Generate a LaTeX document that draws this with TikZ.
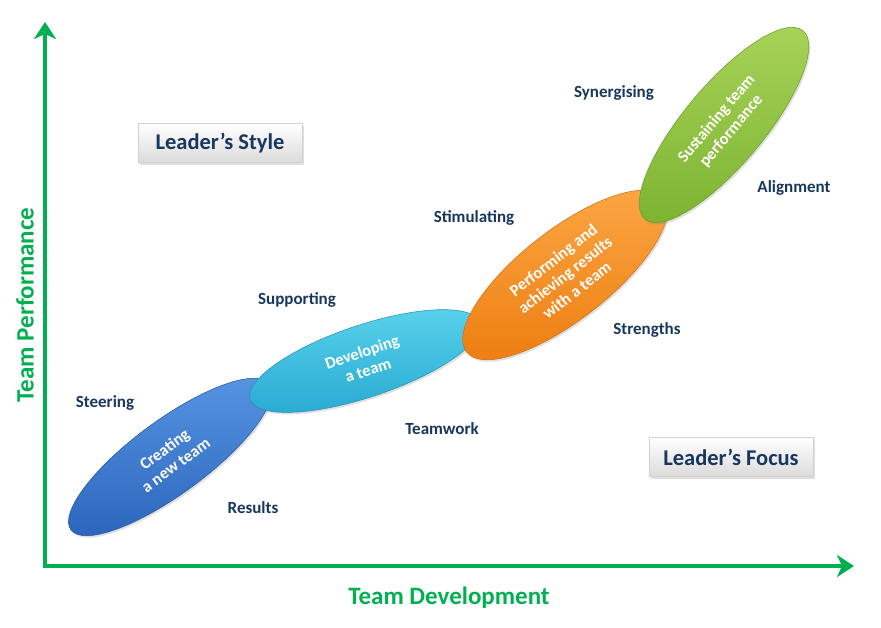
\documentclass[tikz,border=0pt]{standalone}
\usepackage{fontspec}
\setmainfont{Carlito}
\usetikzlibrary{shapes.geometric,arrows.meta,shadows}
\definecolor{axisgreen}{RGB}{0,176,80}
\definecolor{navy}{RGB}{23,55,94}
\definecolor{blueA}{RGB}{88,150,228}
\definecolor{blueB}{RGB}{46,104,190}
\definecolor{cyanA}{RGB}{90,210,236}
\definecolor{cyanB}{RGB}{40,170,210}
\definecolor{orangeA}{RGB}{252,168,70}
\definecolor{orangeB}{RGB}{238,128,20}
\definecolor{greenA}{RGB}{168,212,90}
\definecolor{greenB}{RGB}{126,180,50}
\tikzset{
  phase/.style={ellipse, inner sep=0pt, align=center, text=white,
    font=\bfseries\fontsize{16.5}{19}\selectfont,
    drop shadow={shadow xshift=1.5pt, shadow yshift=-2pt, opacity=0.25}},
  lbl/.style={text=navy, font=\bfseries\fontsize{17}{19}\selectfont},
  boxlbl/.style={draw=gray!35, line width=0.4pt, top color=white, bottom color=gray!28,
    text=navy, font=\bfseries\fontsize{22.5}{25}\selectfont,
    minimum width=164pt, minimum height=39pt, inner sep=0pt,
    drop shadow={shadow xshift=1.5pt, shadow yshift=-2pt, opacity=0.25}},
  axislbl/.style={text=axisgreen, font=\bfseries\fontsize{25}{27}\selectfont},
  axisline/.style={draw=axisgreen, line width=4pt,
    -{Stealth[length=17pt, width=22pt, inset=5pt]}}
}
\begin{document}
\begin{tikzpicture}[x=1pt,y=-1pt]
\useasboundingbox (0,0) rectangle (881,627);
% axes
\coordinate (O) at (45,566);
\coordinate (Ytip) at (45,22);
\coordinate (Xtip) at (854,566);
\draw[axisline] ([yshift=-2pt]O) -- (Ytip);
\draw[axisline] ([xshift=-2pt]O) -- (Xtip);
\node[axislbl, rotate=90] (ylab) at (25,305) {Team Performance};
\node[axislbl] (xlab) at (449,598) {Team Development};
% phases
\node[phase, minimum width=246pt, minimum height=74pt, rotate=36.3,
  top color=blueA, bottom color=blueB, draw=blueB!80!black, line width=0.5pt]
  (p1) at (170,457) {Creating\\a new team};
\node[phase, minimum width=242pt, minimum height=72pt, rotate=18.5,
  top color=cyanA, bottom color=cyanB, draw=cyanB!85!black, line width=0.5pt]
  (p2) at (365,361) {Developing\\a team};
\node[phase, minimum width=250pt, minimum height=90pt, rotate=38,
  top color=orangeA, bottom color=orangeB, draw=orangeB!85!black, line width=0.5pt]
  (p3) at (565,275) {Performing and\\achieving results\\with a team};
\node[phase, minimum width=246pt, minimum height=80pt, rotate=50,
  top color=greenA, bottom color=greenB, draw=greenB!85!black, line width=0.5pt]
  (p4) at (724,125) {Sustaining team\\performance};
% labels
\node[lbl] (steer) at (105,403) {Steering};
\node[lbl] (res) at (253,508) {Results};
\node[lbl] (supp) at (297,300) {Supporting};
\node[lbl] (team) at (442,429) {Teamwork};
\node[lbl] (stim) at (474,218) {Stimulating};
\node[lbl] (str) at (647,330) {Strengths};
\node[lbl] (syn) at (614,93) {Synergising};
\node[lbl] (ali) at (794,188) {Alignment};
% boxes
\node[boxlbl] (style) at (220,143) {Leader’s Style};
\node[boxlbl] (focus) at (731,457) {Leader’s Focus};
\end{tikzpicture}
\end{document}
